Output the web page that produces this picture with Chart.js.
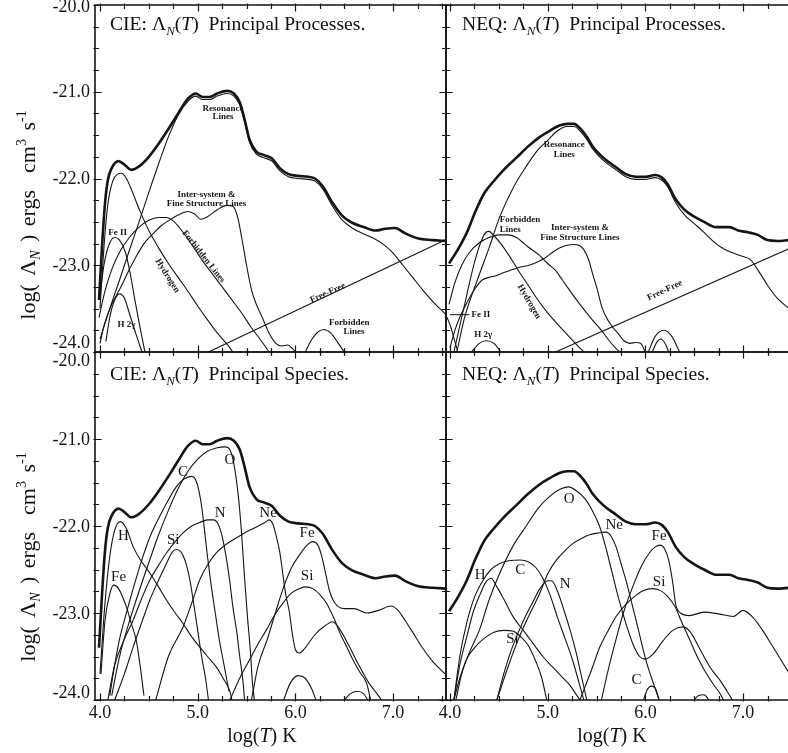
<!DOCTYPE html>
<html>
<head>
<meta charset="utf-8">
<script src="https://cdn.jsdelivr.net/npm/chart.js@4.4.1/dist/chart.umd.min.js"></script>
<style>
  html,body{margin:0;padding:0;background:#fff;}
  #wrap{position:relative;width:788px;height:753px;overflow:hidden;font-family:"Liberation Serif",serif;color:#111;}
  #wrap canvas{position:absolute;left:0;top:0;}
  .ttl{position:absolute;font-size:19.6px;line-height:20px;white-space:nowrap;}
  .ttl sub{font-size:13px;vertical-align:-5px;line-height:0;font-style:italic;}
  .ytl{position:absolute;font-size:22px;line-height:22px;white-space:nowrap;transform:translate(-50%,-50%) rotate(-90deg);word-spacing:3px;}
  .ytl sub{font-size:14px;vertical-align:-5px;line-height:0;font-style:italic;}
  .ytl sup{font-size:14px;vertical-align:9px;line-height:0;}
  .xtl{position:absolute;font-size:20px;line-height:20px;white-space:nowrap;transform:translateX(-50%);}
</style>
</head>
<body>
<div id="wrap">
  <canvas id="c-tl" width="788" height="753"></canvas>
  <canvas id="c-tr" width="788" height="753"></canvas>
  <canvas id="c-bl" width="788" height="753"></canvas>
  <canvas id="c-br" width="788" height="753"></canvas>
  <div class="ttl" style="left:110px;top:14px">CIE: Λ<sub>N</sub>(<i>T</i>)&nbsp; Principal Processes.</div>
  <div class="ttl" style="left:462px;top:14px">NEQ: Λ<sub>N</sub>(<i>T</i>)&nbsp; Principal Processes.</div>
  <div class="ttl" style="left:110px;top:364px">CIE: Λ<sub>N</sub>(<i>T</i>)&nbsp; Principal Species.</div>
  <div class="ttl" style="left:462px;top:364px">NEQ: Λ<sub>N</sub>(<i>T</i>)&nbsp; Principal Species.</div>
  <div class="ytl" style="left:28px;top:215px">log( Λ<sub>N</sub> ) ergs&nbsp; cm<sup>3</sup> s<sup>-1</sup></div>
  <div class="ytl" style="left:28px;top:557px">log( Λ<sub>N</sub> ) ergs&nbsp; cm<sup>3</sup> s<sup>-1</sup></div>
  <div class="xtl" style="left:262px;top:725px">log(<i>T</i>) K</div>
  <div class="xtl" style="left:612px;top:725px">log(<i>T</i>) K</div>
</div>
<script>
// ---------------- data: [log T, log Lambda_N] ----------------
// CIE total cooling (thick curve, top-left and bottom-left)
const cieTotal = [[3.99,-23.4],[4.02,-22.8],[4.05,-22.3],[4.08,-22.02],[4.12,-21.88],[4.19,-21.8],[4.25,-21.84],[4.32,-21.9],[4.4,-21.86],[4.5,-21.75],[4.6,-21.6],[4.7,-21.43],[4.8,-21.25],[4.9,-21.08],[4.98,-21.02],[5.05,-21.06],[5.12,-21.06],[5.2,-21.02],[5.3,-20.99],[5.37,-21.02],[5.43,-21.12],[5.48,-21.32],[5.53,-21.55],[5.6,-21.69],[5.68,-21.73],[5.76,-21.77],[5.84,-21.88],[5.93,-21.95],[6.03,-21.97],[6.13,-21.98],[6.2,-22.0],[6.28,-22.09],[6.38,-22.28],[6.48,-22.43],[6.58,-22.51],[6.7,-22.56],[6.82,-22.6],[6.92,-22.58],[7.02,-22.57],[7.12,-22.63],[7.25,-22.69],[7.4,-22.71],[7.55,-22.72]];
// CIE processes
const cieResonance = [[4.0,-23.85],[4.1,-23.5],[4.2,-23.17],[4.3,-22.83],[4.4,-22.5],[4.5,-22.16],[4.6,-21.83],[4.7,-21.52],[4.8,-21.27],[4.9,-21.11],[4.98,-21.05],[5.05,-21.09],[5.12,-21.09],[5.2,-21.05],[5.3,-21.02],[5.37,-21.05],[5.43,-21.15],[5.48,-21.35],[5.53,-21.58],[5.6,-21.72],[5.68,-21.76],[5.76,-21.8],[5.84,-21.91],[5.93,-21.98],[6.03,-22.0],[6.13,-22.01],[6.2,-22.03],[6.28,-22.12],[6.38,-22.32],[6.48,-22.48],[6.58,-22.57],[6.7,-22.64],[6.8,-22.69],[6.9,-22.76],[7.0,-22.86],[7.1,-23.0],[7.2,-23.14],[7.3,-23.28],[7.4,-23.41],[7.55,-23.58]];
const cieHydrogen = [[4.0,-23.5],[4.04,-22.8],[4.08,-22.3],[4.13,-22.03],[4.18,-21.95],[4.22,-21.94],[4.27,-22.0],[4.33,-22.15],[4.4,-22.35],[4.5,-22.6],[4.6,-22.8],[4.7,-22.98],[4.8,-23.14],[4.9,-23.3],[5.0,-23.47],[5.1,-23.63],[5.2,-23.78],[5.3,-23.91],[5.36,-24.0]];
const cieFeII = [[4.0,-23.35],[4.04,-23.0],[4.09,-22.77],[4.15,-22.68],[4.2,-22.71],[4.26,-22.85],[4.31,-23.1],[4.36,-23.42],[4.41,-23.72],[4.46,-24.0]];
const cieH2g = [[4.06,-23.88],[4.1,-23.6],[4.15,-23.4],[4.2,-23.33],[4.25,-23.38],[4.3,-23.55],[4.37,-23.8],[4.43,-24.0]];
const cieForbidden = [[3.99,-23.6],[4.05,-23.3],[4.12,-23.05],[4.2,-22.85],[4.3,-22.68],[4.4,-22.56],[4.5,-22.48],[4.6,-22.45],[4.68,-22.45],[4.76,-22.5],[4.85,-22.62],[4.95,-22.78],[5.05,-22.95],[5.15,-23.1],[5.25,-23.25],[5.35,-23.4],[5.45,-23.55],[5.55,-23.72],[5.65,-23.87],[5.73,-24.0]];
const cieForbiddenHot = [[6.1,-24.0],[6.17,-23.85],[6.23,-23.77],[6.29,-23.74],[6.36,-23.78],[6.44,-23.9],[6.5,-24.0]];
const cieInter = [[4.0,-23.9],[4.04,-23.7],[4.12,-23.45],[4.2,-23.28],[4.3,-23.05],[4.37,-22.9],[4.45,-22.75],[4.54,-22.64],[4.62,-22.55],[4.71,-22.48],[4.8,-22.42],[4.9,-22.38],[4.97,-22.41],[5.03,-22.47],[5.1,-22.44],[5.2,-22.36],[5.3,-22.31],[5.36,-22.32],[5.41,-22.45],[5.45,-22.68],[5.5,-23.0],[5.55,-23.28],[5.6,-23.45],[5.66,-23.6],[5.73,-23.78],[5.8,-23.9],[5.86,-23.93],[5.92,-23.92],[5.97,-23.96],[6.0,-24.0]];
const cieFreeFree = [[5.11,-24.0],[7.55,-22.7]];
// CIE species
const cieSpH = [[4.0,-23.7],[4.05,-22.9],[4.1,-22.35],[4.15,-22.05],[4.21,-21.95],[4.27,-22.03],[4.34,-22.24],[4.42,-22.4],[4.51,-22.54],[4.6,-22.7],[4.68,-22.85],[4.77,-23.0],[4.85,-23.12],[4.93,-23.26],[5.02,-23.39],[5.1,-23.5],[5.19,-23.62],[5.26,-23.75],[5.33,-23.9],[5.35,-24.0]];
const cieSpFeCool = [[4.01,-23.7],[4.05,-23.1],[4.1,-22.78],[4.14,-22.68],[4.19,-22.72],[4.27,-22.93],[4.32,-23.12],[4.37,-23.31],[4.41,-23.6],[4.45,-23.95]];
const cieSpC = [[4.1,-23.95],[4.15,-23.6],[4.2,-23.3],[4.27,-23.0],[4.35,-22.68],[4.44,-22.35],[4.52,-22.1],[4.61,-21.89],[4.7,-21.7],[4.78,-21.55],[4.86,-21.46],[4.94,-21.43],[4.99,-21.5],[5.03,-21.7],[5.06,-21.95],[5.1,-22.35],[5.14,-22.7],[5.18,-23.0],[5.22,-23.3],[5.27,-23.6],[5.32,-23.9]];
const cieSpO = [[4.12,-23.95],[4.2,-23.5],[4.3,-23.1],[4.4,-22.75],[4.5,-22.42],[4.6,-22.1],[4.7,-21.82],[4.8,-21.57],[4.9,-21.37],[5.0,-21.23],[5.1,-21.14],[5.2,-21.1],[5.28,-21.09],[5.34,-21.15],[5.38,-21.35],[5.42,-21.7],[5.45,-22.1],[5.48,-22.6],[5.51,-23.05],[5.54,-23.45],[5.56,-23.8],[5.58,-24.0]];
const cieSpN = [[4.08,-24.0],[4.15,-23.6],[4.25,-23.3],[4.34,-23.08],[4.42,-22.85],[4.51,-22.62],[4.6,-22.45],[4.68,-22.31],[4.77,-22.18],[4.85,-22.08],[4.94,-22.0],[5.02,-21.96],[5.1,-21.93],[5.16,-21.93],[5.21,-21.98],[5.25,-22.12],[5.29,-22.35],[5.33,-22.65],[5.36,-22.93],[5.4,-23.22],[5.43,-23.5],[5.46,-23.75],[5.48,-24.0]];
const cieSpSiCool = [[4.15,-24.0],[4.25,-23.7],[4.34,-23.39],[4.43,-23.1],[4.51,-22.85],[4.6,-22.62],[4.68,-22.43],[4.74,-22.3],[4.78,-22.27],[4.83,-22.3],[4.88,-22.43],[4.92,-22.62],[4.96,-22.9],[5.0,-23.2],[5.04,-23.5],[5.08,-23.75],[5.11,-24.0]];
const cieSpNe = [[4.57,-24.0],[4.7,-23.5],[4.85,-23.16],[4.95,-22.85],[5.02,-22.62],[5.1,-22.45],[5.19,-22.31],[5.28,-22.22],[5.36,-22.16],[5.45,-22.1],[5.53,-22.05],[5.62,-22.0],[5.7,-21.95],[5.73,-21.93],[5.77,-21.98],[5.8,-22.1],[5.84,-22.3],[5.87,-22.54],[5.9,-22.78],[5.94,-23.0],[5.97,-23.25],[6.0,-23.42],[6.04,-23.46],[6.1,-23.4],[6.2,-23.25],[6.3,-23.15],[6.38,-23.1],[6.45,-23.18],[6.55,-23.38],[6.65,-23.6],[6.75,-23.8],[6.85,-23.95],[6.88,-24.0]];
const cieSpSiHot = [[5.33,-24.0],[5.43,-23.75],[5.53,-23.54],[5.62,-23.35],[5.7,-23.2],[5.8,-23.0],[5.87,-22.89],[5.95,-22.78],[6.04,-22.72],[6.1,-22.7],[6.18,-22.72],[6.25,-22.79],[6.32,-22.89],[6.39,-23.05],[6.46,-23.24],[6.53,-23.4],[6.59,-23.54],[6.66,-23.68],[6.73,-23.81],[6.77,-24.0]];
const cieSpFeHot = [[5.55,-24.0],[5.62,-23.6],[5.71,-23.31],[5.8,-22.98],[5.88,-22.7],[5.96,-22.48],[6.05,-22.32],[6.12,-22.22],[6.18,-22.18],[6.23,-22.22],[6.27,-22.35],[6.31,-22.55],[6.35,-22.75],[6.4,-22.88],[6.5,-22.95],[6.6,-22.95],[6.73,-23.0],[6.85,-22.97],[6.98,-22.92],[7.05,-22.97],[7.12,-23.08],[7.2,-23.22],[7.3,-23.4],[7.4,-23.55],[7.55,-23.72]];
const cieSpMinorA = [[5.88,-24.0],[5.95,-23.8],[6.03,-23.72],[6.1,-23.75],[6.17,-23.88],[6.21,-24.0]];
const cieSpMinorB = [[6.5,-24.0],[6.56,-23.93],[6.63,-23.9],[6.7,-23.93],[6.74,-24.0]];

// NEQ total cooling (thick curve, top-right and bottom-right)
const neqTotal = [[3.99,-22.98],[4.08,-22.82],[4.17,-22.63],[4.26,-22.38],[4.35,-22.17],[4.44,-22.04],[4.55,-21.9],[4.68,-21.76],[4.8,-21.63],[4.92,-21.52],[5.02,-21.45],[5.12,-21.39],[5.2,-21.37],[5.27,-21.37],[5.33,-21.42],[5.4,-21.52],[5.46,-21.63],[5.53,-21.72],[5.6,-21.79],[5.7,-21.87],[5.8,-21.95],[5.9,-21.98],[6.0,-21.98],[6.1,-21.96],[6.17,-21.99],[6.23,-22.07],[6.31,-22.24],[6.4,-22.36],[6.5,-22.44],[6.6,-22.5],[6.72,-22.56],[6.86,-22.56],[6.95,-22.6],[7.05,-22.62],[7.15,-22.65],[7.25,-22.71],[7.35,-22.72],[7.47,-22.71]];
// NEQ processes
const neqResonance = [[4.07,-24.0],[4.15,-23.6],[4.27,-23.2],[4.4,-22.8],[4.51,-22.44],[4.65,-22.1],[4.78,-21.86],[4.9,-21.67],[5.0,-21.56],[5.1,-21.45],[5.2,-21.4],[5.27,-21.4],[5.33,-21.45],[5.4,-21.55],[5.46,-21.66],[5.53,-21.75],[5.6,-21.82],[5.7,-21.9],[5.8,-21.98],[5.9,-22.01],[6.0,-22.01],[6.1,-21.99],[6.17,-22.02],[6.23,-22.1],[6.31,-22.28],[6.4,-22.42],[6.5,-22.52],[6.6,-22.62],[6.7,-22.73],[6.8,-22.81],[6.9,-22.86],[7.0,-22.9],[7.07,-22.93],[7.15,-23.05],[7.25,-23.23],[7.35,-23.38],[7.47,-23.5]];
const neqForbidden = [[3.99,-23.45],[4.05,-23.2],[4.12,-23.0],[4.2,-22.85],[4.3,-22.74],[4.4,-22.68],[4.5,-22.65],[4.6,-22.65],[4.68,-22.68],[4.8,-22.79],[4.91,-22.88],[5.0,-22.98],[5.08,-23.06],[5.15,-23.17],[5.25,-23.33],[5.35,-23.48],[5.45,-23.62],[5.55,-23.75],[5.63,-23.87],[5.7,-23.96],[5.74,-24.0]];
const neqForbiddenHot = [[6.03,-24.0],[6.1,-23.82],[6.19,-23.75],[6.27,-23.82],[6.35,-24.0]];
const neqForbiddenHot2 = [[6.07,-24.0],[6.12,-23.88],[6.16,-23.85],[6.2,-23.9],[6.24,-24.0]];
const neqHydrogen = [[4.04,-24.0],[4.1,-23.7],[4.18,-23.3],[4.25,-22.97],[4.32,-22.72],[4.37,-22.62],[4.4,-22.61],[4.45,-22.66],[4.52,-22.75],[4.6,-22.88],[4.7,-23.06],[4.8,-23.23],[4.9,-23.4],[5.0,-23.55],[5.1,-23.68],[5.2,-23.8],[5.3,-23.92],[5.37,-24.0]];
const neqInter = [[4.0,-23.95],[4.05,-23.75],[4.1,-23.6],[4.16,-23.46],[4.25,-23.28],[4.33,-23.17],[4.4,-23.14],[4.47,-23.12],[4.56,-23.08],[4.64,-23.05],[4.72,-23.02],[4.81,-23.0],[4.9,-22.96],[4.98,-22.91],[5.05,-22.85],[5.12,-22.8],[5.2,-22.77],[5.26,-22.76],[5.32,-22.77],[5.37,-22.82],[5.42,-22.94],[5.46,-23.1],[5.5,-23.25],[5.56,-23.5],[5.62,-23.64],[5.67,-23.72],[5.73,-23.8],[5.78,-23.87],[5.84,-23.9],[5.9,-23.89],[5.95,-23.9],[6.0,-24.0]];
const neqFeII = [[3.97,-23.6],[4.01,-23.72],[4.05,-23.88],[4.08,-24.0]];
const neqH2g = [[4.22,-24.0],[4.3,-23.9],[4.37,-23.87],[4.45,-23.9],[4.52,-24.0]];
const neqFreeFree = [[5.08,-24.0],[7.47,-22.81]];
// NEQ species
const neqSpO = [[4.06,-24.0],[4.12,-23.7],[4.2,-23.45],[4.3,-23.2],[4.4,-22.85],[4.51,-22.54],[4.65,-22.22],[4.78,-22.0],[4.9,-21.8],[5.02,-21.66],[5.12,-21.58],[5.21,-21.55],[5.3,-21.6],[5.39,-21.7],[5.46,-21.83],[5.53,-22.0],[5.6,-22.27],[5.66,-22.54],[5.73,-22.85],[5.8,-23.12],[5.87,-23.35],[5.94,-23.5],[6.0,-23.53],[6.08,-23.47],[6.18,-23.32],[6.28,-23.2],[6.38,-23.16],[6.46,-23.22],[6.56,-23.42],[6.66,-23.62],[6.78,-23.8],[6.89,-24.0]];
const neqSpNe = [[4.48,-24.0],[4.6,-23.6],[4.7,-23.3],[4.8,-23.05],[4.92,-22.77],[5.0,-22.55],[5.09,-22.39],[5.18,-22.28],[5.26,-22.2],[5.35,-22.14],[5.43,-22.1],[5.52,-22.08],[5.6,-22.07],[5.65,-22.12],[5.7,-22.24],[5.75,-22.43],[5.8,-22.62],[5.87,-22.93],[5.93,-23.2],[5.97,-23.39],[6.02,-23.6],[6.07,-23.77],[6.14,-24.0]];
const neqSpC = [[4.04,-24.0],[4.1,-23.5],[4.17,-23.12],[4.25,-22.82],[4.34,-22.62],[4.42,-22.5],[4.51,-22.43],[4.6,-22.4],[4.72,-22.39],[4.8,-22.41],[4.88,-22.48],[4.95,-22.6],[5.02,-22.78],[5.1,-23.05],[5.18,-23.3],[5.26,-23.56],[5.32,-23.8],[5.37,-24.0]];
const neqSpCHot = [[5.98,-24.0],[6.02,-23.88],[6.06,-23.84],[6.1,-23.86],[6.14,-24.0]];
const neqSpN = [[4.48,-24.0],[4.55,-23.7],[4.62,-23.45],[4.7,-23.22],[4.78,-23.02],[4.85,-22.87],[4.92,-22.72],[5.0,-22.63],[5.04,-22.63],[5.1,-22.75],[5.17,-22.98],[5.23,-23.2],[5.29,-23.45],[5.34,-23.7],[5.4,-24.0]];
const neqSpH = [[4.04,-24.0],[4.1,-23.6],[4.17,-23.28],[4.24,-22.98],[4.31,-22.78],[4.37,-22.64],[4.42,-22.6],[4.48,-22.7],[4.55,-22.84],[4.65,-23.05],[4.75,-23.2],[4.85,-23.35],[4.95,-23.5],[5.05,-23.62],[5.15,-23.74],[5.22,-23.82],[5.3,-23.95],[5.33,-24.0]];
const neqSpSiCool = [[4.04,-24.0],[4.1,-23.75],[4.17,-23.53],[4.25,-23.4],[4.34,-23.3],[4.45,-23.22],[4.55,-23.2],[4.65,-23.21],[4.72,-23.27],[4.8,-23.37],[4.88,-23.56],[4.94,-23.75],[4.99,-24.0]];
const neqSpSiHot = [[5.33,-24.0],[5.45,-23.65],[5.53,-23.4],[5.62,-23.2],[5.7,-23.04],[5.8,-22.9],[5.9,-22.8],[5.98,-22.74],[6.07,-22.72],[6.15,-22.74],[6.22,-22.8],[6.3,-22.92],[6.37,-23.1],[6.45,-23.3],[6.53,-23.5],[6.61,-23.67],[6.69,-23.81],[6.76,-23.92],[6.8,-24.0]];
const neqSpFeHot = [[5.55,-24.0],[5.62,-23.65],[5.7,-23.3],[5.78,-22.98],[5.87,-22.7],[5.96,-22.46],[6.04,-22.31],[6.1,-22.24],[6.15,-22.22],[6.2,-22.27],[6.24,-22.4],[6.28,-22.65],[6.31,-22.9],[6.36,-23.0],[6.45,-23.03],[6.6,-22.99],[6.75,-23.01],[6.9,-23.04],[7.0,-22.97],[7.1,-23.05],[7.2,-23.2],[7.3,-23.38],[7.47,-23.69]];
const neqSpMinor = [[6.5,-24.0],[6.54,-23.95],[6.6,-23.94],[6.65,-24.0]];

const xTickLabels = ['4.0','5.0','6.0','7.0'];
const yTickLabels = ['-20.0','-21.0','-22.0','-23.0','-24.0'];

// ---------------- drawing ----------------
const W = 788, H = 753;
const INK = '#151515';

function toXY(arr){ return arr.map(p=>({x:p[0], y:p[1]})); }

// box frame + inward ticks + tick labels, like the printed figure
const framePlugin = {
  id:'frame',
  afterDatasetsDraw(chart, args, o){
    const {ctx, chartArea:a, scales:{x, y}} = chart;
    ctx.save();
    ctx.strokeStyle = INK; ctx.lineWidth = 1.6; ctx.lineCap = 'square';
    ctx.beginPath();
    ctx.moveTo(a.left, a.top); ctx.lineTo(a.left, a.bottom);
    ctx.moveTo(a.left, a.bottom); ctx.lineTo(a.right, a.bottom);
    ctx.moveTo(a.left, a.top); ctx.lineTo(a.right, a.top);
    if(o.right){ ctx.moveTo(a.right, a.top); ctx.lineTo(a.right, a.bottom); }
    ctx.stroke();
    ctx.lineWidth = 1.2;
    ctx.beginPath();
    for(let v=-24; v<=-20.001+0.25; v+=0.25){
      const py = Math.round(y.getPixelForValue(v))+0.5;
      const len = Math.abs(v-Math.round(v))<0.01 ? 6 : 3.5;
      ctx.moveTo(a.left-1, py); ctx.lineTo(a.left+len, py);
      if(o.right){ ctx.moveTo(a.right+1, py); ctx.lineTo(a.right-len, py); }
    }
    for(let v=4; v<=x.max+0.001; v+=0.25){
      const px = Math.round(x.getPixelForValue(v))+0.5;
      const len = Math.abs(v-Math.round(v))<0.01 ? 6 : 3.5;
      ctx.moveTo(px, a.bottom+1); ctx.lineTo(px, a.bottom-len);
      ctx.moveTo(px, a.top-1); ctx.lineTo(px, a.top+len);
    }
    ctx.stroke();
    ctx.fillStyle = INK;
    ctx.font = '18px "Liberation Serif"';
    if(o.yLabels){
      ctx.textAlign = 'right';
      yTickLabels.forEach(t=>{
        const v = parseFloat(t);
        let py = y.getPixelForValue(v)+1;
        ctx.textBaseline = 'middle';
        if(v===-24) { py = a.bottom - (o.lower ? 7 : 9); }
        if(v===-20 && o.lower) { py = a.top + 9; }
        if(v===-20 && !o.lower) { py = a.top + 2; }
        ctx.fillText(t, a.left-5, py);
      });
    }
    if(o.xLabels){
      ctx.textAlign = 'center'; ctx.textBaseline = 'middle';
      xTickLabels.forEach(t=>{
        ctx.fillText(t, x.getPixelForValue(parseFloat(t)), a.bottom+13);
      });
    }
    ctx.restore();
  }
};

// curve annotations placed in data coordinates
const labelPlugin = {
  id:'curveLabels',
  afterDatasetsDraw(chart, args, o){
    const {ctx, scales:{x, y}} = chart;
    ctx.save();
    ctx.fillStyle = INK; ctx.strokeStyle = INK; ctx.lineWidth = 1;
    (o.items||[]).forEach(it=>{
      const px = x.getPixelForValue(it.x), py = y.getPixelForValue(it.y);
      ctx.font = (it.bold ? 'bold ' : '') + (it.size||10) + 'px "Liberation Serif"';
      if(it.leader){
        const l0 = x.getPixelForValue(it.leader[0]);
        ctx.beginPath(); ctx.moveTo(l0, py); ctx.lineTo(px-2, py); ctx.stroke();
      }
      ctx.save();
      ctx.translate(px, py);
      ctx.rotate((it.rot||0)*Math.PI/180);
      ctx.textAlign = it.align||'center'; ctx.textBaseline = 'middle';
      ctx.fillText(it.t, 0, 0);
      ctx.restore();
    });
    ctx.restore();
  }
};

function makePanel(id, box, xmin, xmax, curves, items, frameOpts){
  const datasets = curves.map(c=>({
    data: toXY(c.d), showLine:true, pointRadius:0, fill:false,
    borderColor: INK, borderWidth: c.w||1.1,
    cubicInterpolationMode:'monotone', clip:0
  }));
  return new Chart(document.getElementById(id), {
    type:'scatter',
    data:{datasets},
    options:{
      responsive:false, animation:false, devicePixelRatio:1,
      layout:{padding:{left:box.l, top:box.t, right:W-box.r, bottom:H-box.b}},
      scales:{
        x:{type:'linear', min:xmin, max:xmax, display:false},
        y:{type:'linear', min:-24, max:-20, display:false}
      },
      plugins:{legend:{display:false}, tooltip:{enabled:false}, title:{display:false},
        frame:frameOpts, curveLabels:{items}}
    },
    plugins:[framePlugin, labelPlugin]
  });
}

const leftX = [4-5/97.7, 4+346/97.7];
const rightX = [4-4/97.7, 4+338/97.7];

makePanel('c-tl', {l:95,t:5,r:446,b:352}, leftX[0], leftX[1], [
  {d:cieResonance}, {d:cieHydrogen}, {d:cieFeII}, {d:cieH2g}, {d:cieForbidden},
  {d:cieForbiddenHot}, {d:cieInter}, {d:cieFreeFree}, {d:cieTotal, w:2.6}
], [
  {t:'Resonance', x:5.26, y:-21.19, size:9, bold:true},
  {t:'Lines', x:5.26, y:-21.29, size:9, bold:true},
  {t:'Inter-system &', x:5.09, y:-22.19, size:9, bold:true},
  {t:'Fine Structure Lines', x:5.09, y:-22.29, size:9, bold:true},
  {t:'Forbidden Lines', x:5.06, y:-22.9, size:9, bold:true, rot:52},
  {t:'Hydrogen', x:4.69, y:-23.12, size:9, bold:true, rot:58},
  {t:'Fe II', x:4.18, y:-22.63, size:9, bold:true},
  {t:'H 2γ', x:4.27, y:-23.69, size:9, bold:true},
  {t:'Free-Free', x:6.33, y:-23.32, size:9, bold:true, rot:-24},
  {t:'Forbidden', x:6.55, y:-23.66, size:9, bold:true},
  {t:'Lines', x:6.6, y:-23.77, size:9, bold:true}
], {right:true, yLabels:true, xLabels:false, lower:false});

makePanel('c-tr', {l:446,t:5,r:788,b:352}, rightX[0], rightX[1], [
  {d:neqResonance}, {d:neqForbidden}, {d:neqForbiddenHot}, {d:neqForbiddenHot2}, {d:neqHydrogen},
  {d:neqInter}, {d:neqFeII}, {d:neqH2g}, {d:neqFreeFree}, {d:neqTotal, w:2.6}
], [
  {t:'Resonance', x:5.17, y:-21.61, size:9, bold:true},
  {t:'Lines', x:5.17, y:-21.72, size:9, bold:true},
  {t:'Forbidden', x:4.51, y:-22.48, size:9, bold:true, align:'left'},
  {t:'Lines', x:4.51, y:-22.59, size:9, bold:true, align:'left'},
  {t:'Inter-system &', x:5.33, y:-22.57, size:9, bold:true},
  {t:'Fine Structure Lines', x:5.33, y:-22.68, size:9, bold:true},
  {t:'Hydrogen', x:4.81, y:-23.42, size:9, bold:true, rot:60},
  {t:'Free-Free', x:6.2, y:-23.29, size:9, bold:true, rot:-25},
  {t:'Fe II', x:4.22, y:-23.57, size:9, bold:true, align:'left', leader:[4.0]},
  {t:'H 2γ', x:4.34, y:-23.8, size:9, bold:true}
], {right:false, yLabels:false, xLabels:false, lower:false});

makePanel('c-bl', {l:95,t:352,r:446,b:700}, leftX[0], leftX[1], [
  {d:cieSpH}, {d:cieSpFeCool}, {d:cieSpC}, {d:cieSpO}, {d:cieSpN}, {d:cieSpSiCool},
  {d:cieSpNe}, {d:cieSpSiHot}, {d:cieSpFeHot}, {d:cieSpMinorA}, {d:cieSpMinorB}, {d:cieTotal, w:2.6}
], [
  {t:'Fe', x:4.19, y:-22.59, size:15},
  {t:'H', x:4.24, y:-22.12, size:15},
  {t:'C', x:4.85, y:-21.38, size:15},
  {t:'O', x:5.33, y:-21.24, size:15},
  {t:'Si', x:4.75, y:-22.16, size:15},
  {t:'N', x:5.23, y:-21.85, size:15},
  {t:'Ne', x:5.72, y:-21.85, size:15},
  {t:'Fe', x:6.12, y:-22.08, size:15},
  {t:'Si', x:6.12, y:-22.58, size:15}
], {right:true, yLabels:true, xLabels:true, lower:true});

makePanel('c-br', {l:446,t:352,r:788,b:700}, rightX[0], rightX[1], [
  {d:neqSpO}, {d:neqSpNe}, {d:neqSpC}, {d:neqSpCHot}, {d:neqSpN}, {d:neqSpH},
  {d:neqSpSiCool}, {d:neqSpSiHot}, {d:neqSpFeHot}, {d:neqSpMinor}, {d:neqTotal, w:2.6}
], [
  {t:'O', x:5.22, y:-21.69, size:15},
  {t:'Ne', x:5.68, y:-21.99, size:15},
  {t:'Fe', x:6.14, y:-22.12, size:15},
  {t:'Si', x:6.14, y:-22.65, size:15},
  {t:'H', x:4.31, y:-22.56, size:15},
  {t:'C', x:4.72, y:-22.51, size:15},
  {t:'N', x:5.18, y:-22.67, size:15},
  {t:'Si', x:4.64, y:-23.3, size:15},
  {t:'C', x:5.91, y:-23.77, size:15}
], {right:false, yLabels:false, xLabels:true, lower:true});
</script>
</body>
</html>
